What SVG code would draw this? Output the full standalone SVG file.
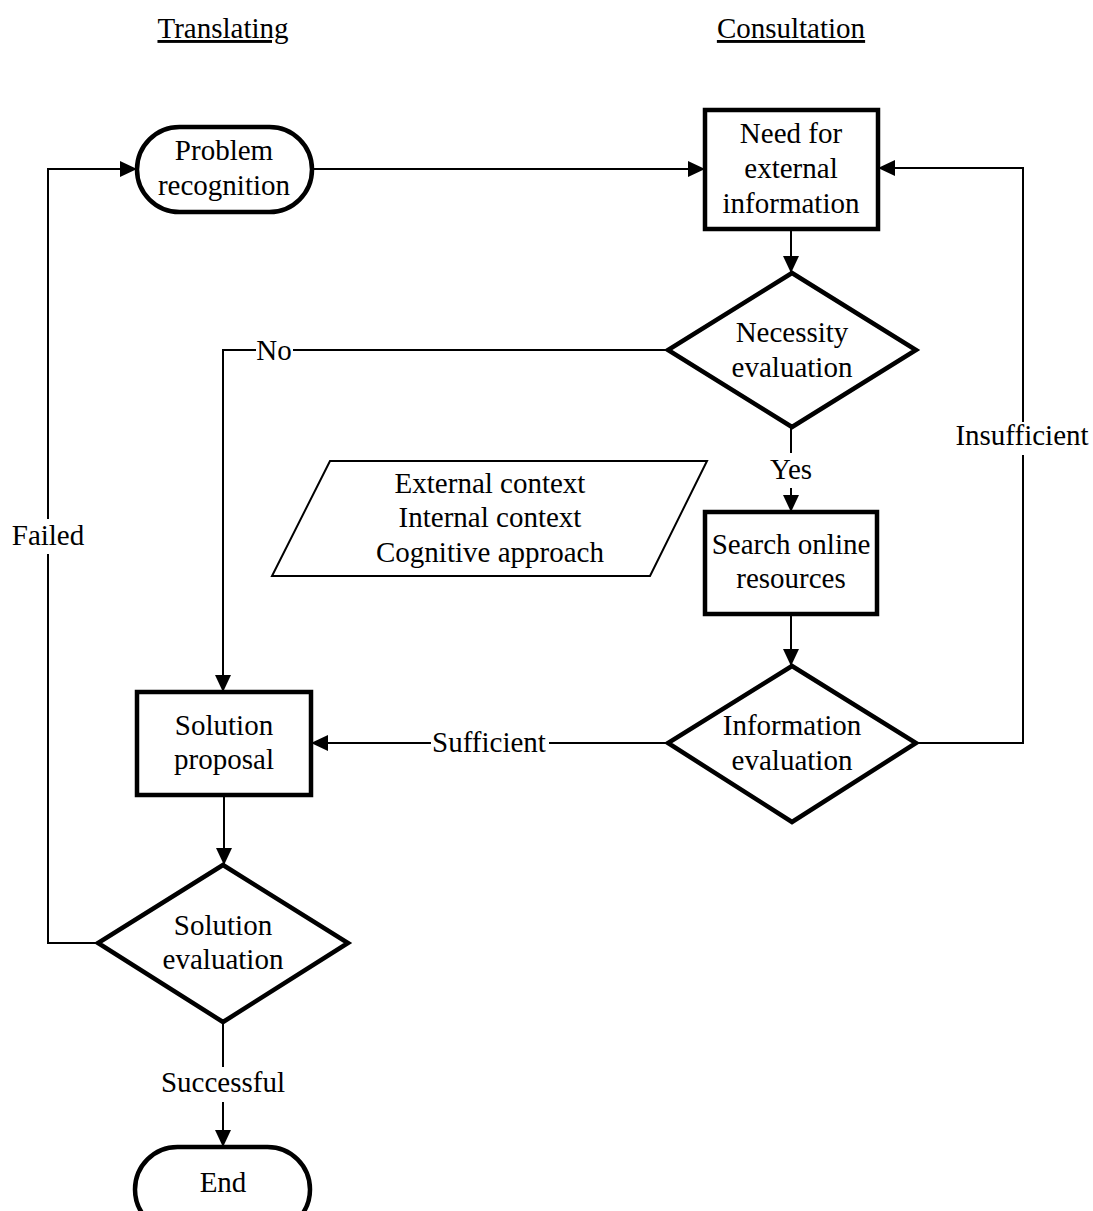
<svg xmlns="http://www.w3.org/2000/svg" width="1093" height="1211" viewBox="0 0 1093 1211">
  <style>
    text { font-family: 'Liberation Serif', Tinos, 'Times New Roman', 'DejaVu Serif', serif; font-size: 29px; fill: #000; text-anchor: middle; }
    .title { text-decoration: underline; }
    .node { fill: #fff; stroke: #000; stroke-width: 4.5; stroke-linejoin: miter; }
    .data { fill: #fff; stroke: #000; stroke-width: 2; }
    .edge { fill: none; stroke: #000; stroke-width: 2; }
    .arrow { marker-end: url(#head); }
  </style>
  <defs>
    <marker id="head" markerUnits="userSpaceOnUse" markerWidth="17" markerHeight="16" refX="17" refY="8" orient="auto">
      <path d="M0,0 L17,8 L0,16 Z" fill="#000"/>
    </marker>
  </defs>
  <rect width="1093" height="1211" fill="#fff"/>

  <!-- Lane titles -->
  <g>
    <text class="title" x="223" y="38">Translating</text>
    <text class="title" x="791" y="38">Consultation</text>
  </g>

  <!-- Connectors and their labels -->
  <g id="connectors">
    <path class="edge arrow" d="M312,169 H705"/>
    <path class="edge arrow" d="M791,229 V273"/>
    <path class="edge" d="M668,350 H293"/>
    <path class="edge arrow" d="M256,350 H223 V692"/>
    <path class="edge" d="M791,427 V453"/>
    <path class="edge arrow" d="M791,488 V512"/>
    <path class="edge arrow" d="M791,614 V666"/>
    <path class="edge" d="M668,743 H549"/>
    <path class="edge arrow" d="M431,743 H311"/>
    <path class="edge" d="M916,743 H1023 V455"/>
    <path class="edge arrow" d="M1023,422 V168 H878"/>
    <path class="edge arrow" d="M224,795 V865"/>
    <path class="edge" d="M98,943 H48 V554"/>
    <path class="edge arrow" d="M48,519 V169 H137"/>
    <path class="edge" d="M223,1022 V1067"/>
    <path class="edge arrow" d="M223,1102 V1147"/>
    <text x="274" y="360">No</text>
    <text x="791" y="479">Yes</text>
    <text x="489" y="752">Sufficient</text>
    <text x="1022" y="445">Insufficient</text>
    <text x="48" y="545">Failed</text>
    <text x="223" y="1092">Successful</text>
  </g>

  <!-- Nodes -->
  <g id="problem-recognition">
    <rect class="node" x="137" y="127" width="175" height="85" rx="42.5"/>
    <text x="224" y="160">Problem</text>
    <text x="224" y="195">recognition</text>
  </g>
  <g id="need-external-information">
    <rect class="node" x="705" y="110" width="173" height="119"/>
    <text x="791" y="143">Need for</text>
    <text x="791" y="178">external</text>
    <text x="791" y="213">information</text>
  </g>
  <g id="necessity-evaluation">
    <polygon class="node" points="792,273 916,350 792,427 668,350"/>
    <text x="792" y="342">Necessity</text>
    <text x="792" y="377">evaluation</text>
  </g>
  <g id="context-input">
    <polygon class="data" points="330,461 707,461 650,576 272,576"/>
    <text x="490" y="493">External context</text>
    <text x="490" y="527">Internal context</text>
    <text x="490" y="562">Cognitive approach</text>
  </g>
  <g id="search-online-resources">
    <rect class="node" x="705" y="512" width="172" height="102"/>
    <text x="791" y="554">Search online</text>
    <text x="791" y="588">resources</text>
  </g>
  <g id="information-evaluation">
    <polygon class="node" points="792,666 916,743 792,822 668,743"/>
    <text x="792" y="735">Information</text>
    <text x="792" y="770">evaluation</text>
  </g>
  <g id="solution-proposal">
    <rect class="node" x="137" y="692" width="174" height="103"/>
    <text x="224" y="735">Solution</text>
    <text x="224" y="769">proposal</text>
  </g>
  <g id="solution-evaluation">
    <polygon class="node" points="223,865 348,943 223,1022 98,943"/>
    <text x="223" y="935">Solution</text>
    <text x="223" y="969">evaluation</text>
  </g>
  <g id="end">
    <rect class="node" x="135" y="1147" width="175" height="85" rx="42.5"/>
    <text x="223" y="1192">End</text>
  </g>
</svg>
